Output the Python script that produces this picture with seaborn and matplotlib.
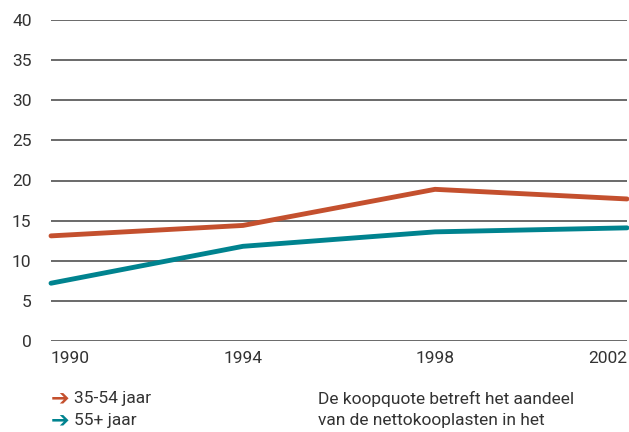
import pandas as pd
import seaborn as sns
import matplotlib.pyplot as plt

years = [1990, 1994, 1998, 2002]
groep_35_54 = [13.1, 14.4, 18.9, 17.7]
groep_55plus = [7.2, 11.8, 13.6, 14.1]
labels = ["35-54 jaar", "55+ jaar"]
colors = ["#C4502E", "#00838F"]
yticks = [0, 5, 10, 15, 20, 25, 30, 35, 40]

df = pd.DataFrame({
    "jaar": years * 2,
    "koopquote": groep_35_54 + groep_55plus,
    "groep": [labels[0]] * 4 + [labels[1]] * 4,
})

sns.set_style("white")
plt.rcParams["font.family"] = ["Roboto", "DejaVu Sans"]

fig = plt.figure(figsize=(6.29, 4.32), dpi=100)
ax = fig.add_axes([51 / 629, 1 - 341 / 432, 576 / 629, 321 / 432])

for y in yticks:
    ax.axhline(y, color="#505050", lw=1.2, zorder=1)

sns.lineplot(data=df, x="jaar", y="koopquote", hue="groep", palette=colors,
             linewidth=3.5, legend=False, ax=ax, zorder=3)
for line in ax.get_lines()[-2:]:
    line.set_solid_capstyle("round")
    line.set_clip_on(False)

ax.set_xlim(1990, 2002)
ax.set_ylim(0, 40)
ax.set_yticks(yticks)
ax.set_yticklabels([str(v) for v in yticks], fontsize=12.5, color="#333333")
ax.set_xticks(years)
ax.set_xticklabels([str(v) for v in years], fontsize=12.5, color="#333333")
xt = ax.get_xticklabels()
xt[0].set_ha("left")
xt[-1].set_ha("right")
ax.tick_params(axis="y", length=0, pad=14)
ax.tick_params(axis="x", length=0, pad=7)
ax.set_xlabel("")
ax.set_ylabel("")
for s in ax.spines.values():
    s.set_visible(False)

# legend with coloured arrows
for i, (lab, col) in enumerate(zip(labels, colors)):
    ypos = 1 - (399 + 22 * i) / 432
    fig.text(51 / 629, ypos, "\u2794", color=col, fontsize=16, fontweight="bold",
             va="center", family="DejaVu Sans")
    fig.text(74 / 629, ypos, lab, color="#333333", fontsize=12.5, va="center")

fig.text(318 / 629, 1 - 399 / 432, "De koopquote betreft het aandeel",
         color="#333333", fontsize=12.5, va="center")
fig.text(318 / 629, 1 - 421 / 432, "van de nettokooplasten in het",
         color="#333333", fontsize=12.5, va="center")

fig.savefig("out.png", dpi=100)
